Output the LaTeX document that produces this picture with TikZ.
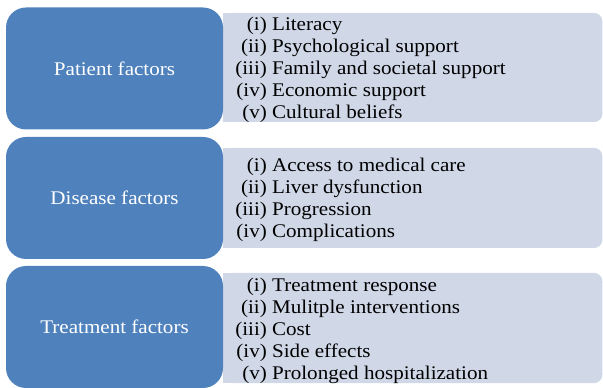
\documentclass[tikz,border=0pt]{standalone}
\usepackage{fontspec}
\setmainfont{Liberation Serif}[FakeStretch=1.09]
\definecolor{factorblue}{HTML}{4F81BD}
\definecolor{listgray}{HTML}{D0D8E8}

\begin{document}
\begin{tikzpicture}[x=0.75pt,y=-0.75pt,
        factor/.style={fill=factorblue,rounded corners=15pt,minimum width=162.75pt,minimum height=91.5pt,inner sep=0pt,text=white,font=\fontsize{14.5}{16.5}\selectfont},
        listbox/.style={fill=listgray,rounded corners=6pt,minimum width=284.25pt,inner sep=0pt,anchor=west},
        items/.style={anchor=west,inner sep=0pt,font=\fontsize{14.5}{16.5}\selectfont}]
    \useasboundingbox (0,0) rectangle (603,388);

    % patient
    \node[listbox,minimum height=81.75pt] (patlist) at (223,67.5) {};
    \fill[listgray] (patlist.north west) rectangle ([xshift=10pt]patlist.south west);
    \node[factor] (pat) at (114.5,68.5) {Patient factors};
    \node[items] (patitems) at (235,70) {\begin{tabular}{@{}r@{ }l@{}}
            (i) & Literacy\\
            (ii) & Psychological support\\
            (iii) & Family and societal support\\
            (iv) & Economic support\\
            (v) & Cultural beliefs
        \end{tabular}};

    % disease
    \node[listbox,minimum height=75pt] (dislist) at (223,198) {};
    \fill[listgray] (dislist.north west) rectangle ([xshift=10pt]dislist.south west);
    \node[factor] (dis) at (114.5,198) {Disease factors};
    \node[items] (disitems) at (235,200) {\begin{tabular}{@{}r@{ }l@{}}
            (i) & Access to medical care\\
            (ii) & Liver dysfunction\\
            (iii) & Progression\\
            (iv) & Complications
        \end{tabular}};

    % treatment
    \node[listbox,minimum height=82.5pt] (trtlist) at (223,328) {};
    \fill[listgray] (trtlist.north west) rectangle ([xshift=10pt]trtlist.south west);
    \node[factor] (trt) at (114.5,327) {Treatment factors};
    \node[items] (trtitems) at (235,331) {\begin{tabular}{@{}r@{ }l@{}}
            (i) & Treatment response\\
            (ii) & Mulitple interventions\\
            (iii) & Cost\\
            (iv) & Side effects\\
            (v) & Prolonged hospitalization
        \end{tabular}};
\end{tikzpicture}
\end{document}
